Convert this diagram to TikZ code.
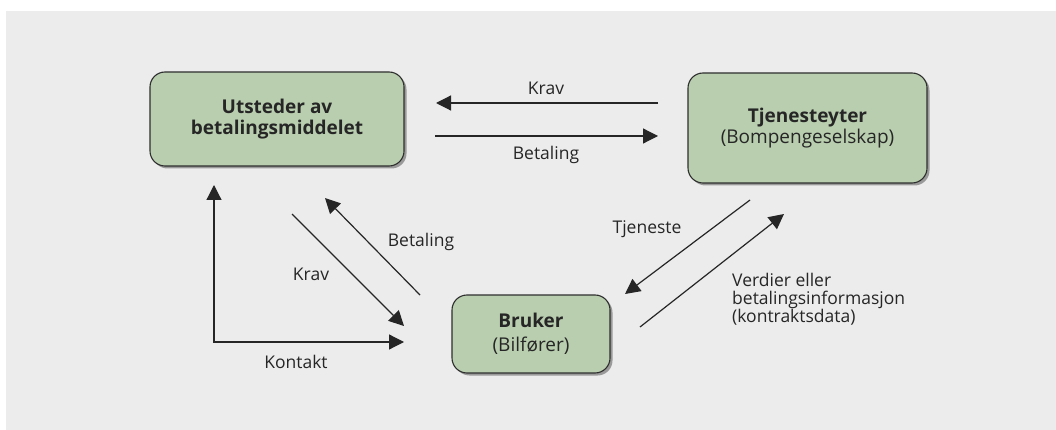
\documentclass[tikz,border=0pt]{standalone}
\usepackage{fontspec}
\setmainfont{Open Sans}
\usetikzlibrary{arrows.meta}
\definecolor{bggrey}{HTML}{EBECEB}
\definecolor{boxgreen}{HTML}{B8CEAE}
\definecolor{edgedark}{HTML}{2E2E2E}
\definecolor{shadowgrey}{HTML}{9A9A9A}
\begin{document}
\begin{tikzpicture}[x=1pt,y=-1pt,
  party/.style={draw=edgedark,line width=1.1pt,fill=boxgreen,rounded corners=15pt,
    align=center,inner sep=0pt,font=\fontsize{19}{20.5}\selectfont,
    text=black!85},
  shade/.style={fill=shadowgrey,rounded corners=15pt},
  flow/.style={draw=black!85,line width=1.2pt,-{Triangle[length=15pt,width=15pt]}},
  flowboth/.style={draw=black!85,line width=1.2pt,{Triangle[length=15pt,width=15pt]}-{Triangle[length=15pt,width=15pt]}},
  lbl/.style={font=\fontsize{17.5}{18}\selectfont,text=black!85,inner sep=0pt}]
  % page and panel
  \useasboundingbox (0,0) rectangle (1056,430);
  \fill[white] (0,0) rectangle (1056,430);
  \fill[bggrey] (6,11) rectangle (1056,430);

  % drop shadows under the boxes
  \fill[shade] (152.5,74.5) rectangle (406.5,168.5);
  \fill[shade] (690.5,75.5) rectangle (929.5,185.5);
  \fill[shade] (454.5,297.5) rectangle (612.5,375.5);

  % the three parties
  \node[party,minimum width=254pt,minimum height=94pt] (issuer) at (277,119)
    {\textbf{Utsteder av}\\\textbf{betalingsmiddelet}};
  \node[party,minimum width=239pt,minimum height=110pt] (provider) at (807.5,128)
    {\textbf{Tjenesteyter}\\(Bompengeselskap)};
  \node[party,minimum width=158pt,minimum height=78pt,
    font=\fontsize{19}{24}\selectfont] (user) at (531,334)
    {\textbf{Bruker}\\(Bilfører)};

  % arrow end points
  \coordinate (kravTopS) at (658,103);
  \coordinate (kravTopE) at (436,103);
  \coordinate (betTopS) at (435,136);
  \coordinate (betTopE) at (658,136);
  \coordinate (kontUp) at (214,185);
  \coordinate (kontCorner) at (214,342);
  \coordinate (kontRight) at (404,342);
  \coordinate (kravDiagS) at (292,214);
  \coordinate (kravDiagE) at (404,326);
  \coordinate (betDiagS) at (420,295);
  \coordinate (betDiagE) at (325,198);
  \coordinate (tjenS) at (750,200);
  \coordinate (tjenE) at (625,294);
  \coordinate (verdS) at (640,327);
  \coordinate (verdE) at (784,214);

  % flows between issuer and provider
  \draw[flow] (kravTopS) -- (kravTopE);
  \draw[flow] (betTopS) -- (betTopE);
  % flows between issuer and user
  \draw[flowboth] (kontUp) -- (kontCorner) -- (kontRight);
  \draw[flow] (kravDiagS) -- (kravDiagE);
  \draw[flow] (betDiagS) -- (betDiagE);
  % flows between provider and user
  \draw[flow] (tjenS) -- (tjenE);
  \draw[flow] (verdS) -- (verdE);

  % labels
  \node[lbl] (lKravTop) at (546,88) {Krav};
  \node[lbl] (lBetTop) at (546,155) {Betaling};
  \node[lbl] (lKont) at (296,362) {Kontakt};
  \node[lbl] (lKravDiag) at (311,274) {Krav};
  \node[lbl] (lBetDiag) at (421,242) {Betaling};
  \node[lbl] (lTjen) at (647,229) {Tjeneste};
  \node[lbl,align=left,anchor=west] (lVerd) at (732,299)
    {Verdier eller\\betalingsinformasjon\\(kontraktsdata)};
\end{tikzpicture}
\end{document}
